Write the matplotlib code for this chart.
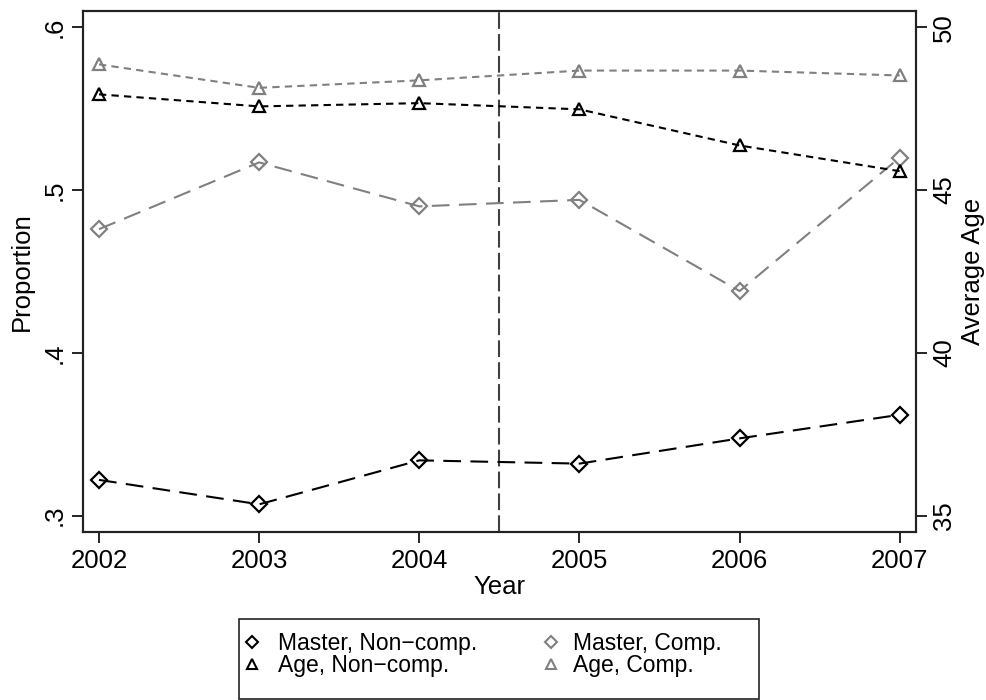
import matplotlib
matplotlib.use("Agg")
import matplotlib.pyplot as plt
from matplotlib.lines import Line2D
from matplotlib.patches import Rectangle

plt.rcParams['font.family'] = ['Liberation Sans', 'DejaVu Sans']

# Data
years = [2002, 2003, 2004, 2005, 2006, 2007]
master_noncomp = [0.322, 0.307, 0.334, 0.332, 0.3475, 0.362]
master_comp = [0.476, 0.517, 0.490, 0.494, 0.438, 0.520]
age_noncomp = [47.94, 47.57, 47.67, 47.48, 46.37, 45.58]
age_comp = [48.86, 48.14, 48.37, 48.67, 48.67, 48.52]
cutoff_year = 2004.5

left_ticks = [0.3, 0.4, 0.5, 0.6]
left_ticklabels = ['.3', '.4', '.5', '.6']
right_ticks = [35, 40, 45, 50]

legend_labels = ['Master, Non\u2212comp.', 'Master, Comp.',
                 'Age, Non\u2212comp.', 'Age, Comp.']

BLACK = '#000000'
GRAY = '#808080'
FS = 18.5

W, H = 987, 700
fig = plt.figure(figsize=(W / 100, H / 100), dpi=100)
ax = fig.add_axes([0.0841, 0.24, 0.8437, 0.7443])
ax2 = ax.twinx()

long_dash = (0, (8.5, 4.5))
short_dash = (0, (3.5, 2.5))

ax.plot(years, master_noncomp, color=BLACK, lw=1.5, linestyle=long_dash,
        marker='D', ms=8.5, mfc='none', mec=BLACK, mew=1.6, zorder=3)
ax.plot(years, master_comp, color=GRAY, lw=1.5, linestyle=long_dash,
        marker='D', ms=8.5, mfc='none', mec=GRAY, mew=1.6, zorder=3)
ax2.plot(years, age_noncomp, color=BLACK, lw=1.5, linestyle=short_dash,
         marker='^', ms=9, mfc='none', mec=BLACK, mew=1.6, zorder=3)
ax2.plot(years, age_comp, color=GRAY, lw=1.5, linestyle=short_dash,
         marker='^', ms=9, mfc='none', mec=GRAY, mew=1.6, zorder=3)

ax.axvline(cutoff_year, color='#404040', lw=1.5, linestyle=(0, (8, 2.5)), zorder=2)

ax.set_xlim(2001.9, 2007.1)
ax.set_ylim(0.29, 0.61)
ax2.set_ylim(34.5, 50.5)

ax.set_xticks(years)
ax.set_xticklabels([str(y) for y in years], fontsize=FS)
ax.set_yticks(left_ticks)
ax.set_yticklabels(left_ticklabels, fontsize=FS, rotation=90, va='center')
ax2.set_yticks(right_ticks)
ax2.set_yticklabels([str(t) for t in right_ticks], fontsize=FS, rotation=90, va='center')

for a in (ax, ax2):
    a.tick_params(axis='both', length=8, width=1.2, color=BLACK, pad=4)
    for s in a.spines.values():
        s.set_linewidth(1.5)
        s.set_color('#222222')

ax.set_xlabel('Year', fontsize=FS, labelpad=2)
ax.set_ylabel('Proportion', fontsize=FS, labelpad=6)
ax2.set_ylabel('Average Age', fontsize=FS, labelpad=3, rotation=90)


# Legend box below the plot, laid out in pixel units of the figure
def fx(px):
    return px / W


def fy(py):
    return 1 - py / H


fig.add_artist(Rectangle((fx(239), fy(699)), fx(759) - fx(239), fy(619) - fy(699),
                         transform=fig.transFigure, fill=False,
                         edgecolor='#222222', lw=1.2))

legend_markers = [('D', BLACK, 6.6), ('D', GRAY, 6.6),
                  ('^', BLACK, 7.2), ('^', GRAY, 7.2)]
col_marker_x = [252, 551]
col_text_x = [278, 573]
row_base_y = [650, 672]
for i, (label, (mk, col, ms)) in enumerate(zip(legend_labels, legend_markers)):
    r, c = divmod(i, 2)
    fig.add_artist(Line2D([fx(col_marker_x[c])], [fy(row_base_y[r] - 8)],
                          transform=fig.transFigure, linestyle='none',
                          marker=mk, ms=ms, mfc='none', mec=col, mew=1.5))
    fig.text(fx(col_text_x[c]), fy(row_base_y[r]), label, fontsize=16.5,
             ha='left', va='baseline', color=BLACK)

fig.savefig('out.png', dpi=100)
